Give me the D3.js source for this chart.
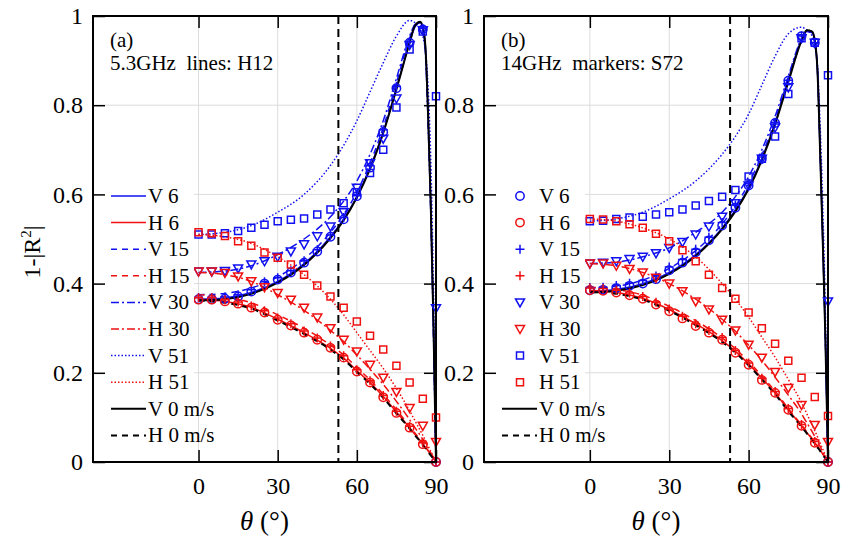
<!DOCTYPE html>
<html>
<head>
<meta charset="utf-8">
<script src="https://cdn.jsdelivr.net/npm/d3@7"></script>
<style>
body { margin: 0; background: #fff; }
svg text { font-family: "Liberation Serif", "Times New Roman", serif; fill: #000; }
</style>
</head>
<body>
<div id="chart"></div>
<script>
// incidence angles (deg) used for the H12 lines and S72 markers
const lineAngles = [0, 10, 20, 30, 40, 50, 55, 60, 65, 70, 75, 80, 82, 84, 85, 86, 87, 88, 89, 90];
const markerAngles = [0, 5, 10, 15, 20, 25, 30, 35, 40, 45, 50, 55, 60, 65, 70, 75, 80, 85, 90];
const xTickValues = [0, 30, 60, 90];
const yTickValues = [0, 0.2, 0.4, 0.6, 0.8, 1];
const legendLabels = ["V 6", "H 6", "V 15", "H 15", "V 30", "H 30", "V 51", "H 51", "V 0 m/s", "H 0 m/s"];
const markerLine = 53;

// ---- panel (a) 5.3 GHz, lines H12 ----
const a_V6 = [0.365, 0.368, 0.38, 0.405, 0.445, 0.505, 0.545, 0.595, 0.66, 0.74, 0.838, 0.94, 0.975, 0.985, 0.975, 0.93, 0.78, 0.58, 0.32, 0];
const a_H6 = [0.365, 0.36, 0.347, 0.32, 0.29, 0.255, 0.233, 0.205, 0.178, 0.147, 0.112, 0.077, 0.062, 0.048, 0.04, 0.033, 0.025, 0.017, 0.008, 0];
const a_V15 = [0.375, 0.378, 0.39, 0.415, 0.455, 0.515, 0.555, 0.605, 0.67, 0.75, 0.85, 0.95, 0.98, 0.985, 0.97, 0.92, 0.77, 0.57, 0.31, 0];
const a_H15 = [0.375, 0.37, 0.357, 0.33, 0.3, 0.262, 0.24, 0.212, 0.184, 0.152, 0.117, 0.08, 0.065, 0.05, 0.042, 0.034, 0.026, 0.018, 0.009, 0];
const a_V30 = [0.425, 0.428, 0.44, 0.465, 0.5, 0.55, 0.585, 0.63, 0.69, 0.765, 0.86, 0.955, 0.98, 0.985, 0.97, 0.915, 0.76, 0.56, 0.3, 0];
const a_H30 = [0.425, 0.42, 0.405, 0.375, 0.34, 0.295, 0.27, 0.24, 0.208, 0.174, 0.136, 0.095, 0.077, 0.06, 0.05, 0.041, 0.031, 0.021, 0.011, 0];
const a_V51 = [0.51, 0.515, 0.53, 0.56, 0.6, 0.665, 0.71, 0.765, 0.83, 0.895, 0.955, 0.99, 0.985, 0.97, 0.955, 0.92, 0.84, 0.68, 0.4, 0];
const a_H51 = [0.51, 0.505, 0.49, 0.46, 0.42, 0.365, 0.33, 0.29, 0.25, 0.21, 0.165, 0.115, 0.093, 0.071, 0.06, 0.048, 0.036, 0.024, 0.012, 0];
const a_V0 = [0.362, 0.365, 0.377, 0.402, 0.442, 0.502, 0.542, 0.593, 0.657, 0.738, 0.836, 0.94, 0.978, 0.987, 0.975, 0.93, 0.78, 0.58, 0.32, 0];
const a_H0 = [0.362, 0.357, 0.344, 0.317, 0.287, 0.252, 0.23, 0.202, 0.175, 0.144, 0.109, 0.075, 0.06, 0.046, 0.038, 0.031, 0.023, 0.015, 0.007, 0];
// panel (a) markers S72
const a_mV6 = [0.365, 0.365, 0.366, 0.371, 0.382, 0.4, 0.409, 0.425, 0.447, 0.472, 0.505, 0.544, 0.596, 0.66, 0.74, 0.838, 0.94, 0.97, 0];
const a_mH6 = [0.364, 0.364, 0.36, 0.355, 0.346, 0.335, 0.319, 0.306, 0.29, 0.274, 0.256, 0.234, 0.203, 0.178, 0.145, 0.11, 0.077, 0.04, 0];
const a_mV15 = [0.369, 0.369, 0.37, 0.375, 0.386, 0.404, 0.413, 0.429, 0.451, 0.476, 0.509, 0.548, 0.6, 0.664, 0.745, 0.842, 0.942, 0.972, 0];
const a_mH15 = [0.368, 0.368, 0.364, 0.359, 0.35, 0.339, 0.323, 0.31, 0.294, 0.278, 0.26, 0.238, 0.207, 0.182, 0.149, 0.114, 0.08, 0.043, 0];
const a_mV30 = [0.427, 0.427, 0.428, 0.434, 0.443, 0.45, 0.46, 0.472, 0.488, 0.506, 0.528, 0.56, 0.615, 0.67, 0.725, 0.815, 0.935, 0.968, 0.345];
const a_mH30 = [0.427, 0.427, 0.424, 0.416, 0.405, 0.392, 0.379, 0.364, 0.346, 0.324, 0.3, 0.274, 0.248, 0.218, 0.189, 0.157, 0.121, 0.081, 0.045];
const a_mV51 = [0.51, 0.51, 0.513, 0.518, 0.525, 0.532, 0.54, 0.543, 0.546, 0.555, 0.566, 0.58, 0.605, 0.648, 0.7, 0.795, 0.925, 0.965, 0.82];
const a_mH51 = [0.515, 0.513, 0.507, 0.495, 0.485, 0.47, 0.458, 0.443, 0.42, 0.396, 0.371, 0.346, 0.315, 0.283, 0.252, 0.216, 0.178, 0.142, 0.1];

// ---- panel (b) 14 GHz, lines H12 ----
const b_V6 = [0.383, 0.387, 0.4, 0.425, 0.465, 0.525, 0.565, 0.615, 0.68, 0.76, 0.855, 0.945, 0.965, 0.962, 0.94, 0.88, 0.7, 0.5, 0.28, 0];
const b_H6 = [0.385, 0.38, 0.367, 0.342, 0.31, 0.272, 0.248, 0.22, 0.188, 0.155, 0.117, 0.081, 0.066, 0.051, 0.043, 0.035, 0.027, 0.018, 0.009, 0];
const b_V15 = [0.39, 0.394, 0.408, 0.434, 0.474, 0.534, 0.574, 0.624, 0.688, 0.766, 0.86, 0.948, 0.966, 0.963, 0.942, 0.882, 0.7, 0.5, 0.28, 0];
const b_H15 = [0.392, 0.387, 0.374, 0.349, 0.317, 0.278, 0.254, 0.225, 0.193, 0.159, 0.12, 0.083, 0.068, 0.053, 0.044, 0.036, 0.028, 0.019, 0.01, 0];
const b_V30 = [0.445, 0.448, 0.46, 0.48, 0.515, 0.56, 0.595, 0.64, 0.7, 0.775, 0.865, 0.95, 0.968, 0.965, 0.945, 0.885, 0.71, 0.51, 0.29, 0];
const b_H30 = [0.445, 0.44, 0.425, 0.4, 0.365, 0.32, 0.293, 0.262, 0.228, 0.19, 0.15, 0.108, 0.088, 0.068, 0.057, 0.046, 0.035, 0.023, 0.012, 0];
const b_V51 = [0.54, 0.545, 0.56, 0.59, 0.63, 0.69, 0.73, 0.78, 0.845, 0.91, 0.96, 0.975, 0.968, 0.955, 0.94, 0.89, 0.76, 0.58, 0.34, 0];
const b_H51 = [0.545, 0.54, 0.525, 0.5, 0.46, 0.4, 0.365, 0.325, 0.28, 0.235, 0.185, 0.133, 0.108, 0.083, 0.07, 0.057, 0.043, 0.029, 0.015, 0];
const b_V0 = [0.38, 0.384, 0.397, 0.422, 0.462, 0.522, 0.562, 0.612, 0.677, 0.757, 0.852, 0.945, 0.968, 0.965, 0.945, 0.88, 0.7, 0.5, 0.28, 0];
const b_H0 = [0.382, 0.377, 0.364, 0.339, 0.307, 0.269, 0.245, 0.217, 0.185, 0.152, 0.114, 0.079, 0.064, 0.049, 0.041, 0.033, 0.025, 0.016, 0.008, 0];
// panel (b) markers S72
const b_mV6 = [0.385, 0.386, 0.39, 0.395, 0.4, 0.41, 0.43, 0.447, 0.47, 0.497, 0.53, 0.57, 0.62, 0.68, 0.76, 0.855, 0.955, 0.94, 0];
const b_mH6 = [0.385, 0.384, 0.38, 0.374, 0.366, 0.353, 0.338, 0.322, 0.305, 0.29, 0.274, 0.245, 0.218, 0.184, 0.155, 0.117, 0.081, 0.043, 0];
const b_mV15 = [0.391, 0.392, 0.396, 0.401, 0.407, 0.417, 0.437, 0.454, 0.477, 0.504, 0.537, 0.576, 0.625, 0.684, 0.762, 0.856, 0.955, 0.94, 0];
const b_mH15 = [0.39, 0.389, 0.385, 0.379, 0.371, 0.358, 0.343, 0.327, 0.31, 0.295, 0.279, 0.25, 0.222, 0.188, 0.158, 0.12, 0.084, 0.046, 0];
const b_mV30 = [0.445, 0.447, 0.45, 0.455, 0.46, 0.468, 0.48, 0.493, 0.51, 0.528, 0.55, 0.58, 0.62, 0.68, 0.75, 0.84, 0.95, 0.94, 0.36];
const b_mH30 = [0.445, 0.445, 0.44, 0.433, 0.425, 0.413, 0.4, 0.383, 0.36, 0.342, 0.319, 0.295, 0.263, 0.234, 0.202, 0.166, 0.128, 0.083, 0.045];
const b_mV51 = [0.54, 0.541, 0.545, 0.548, 0.55, 0.555, 0.56, 0.566, 0.575, 0.585, 0.595, 0.61, 0.64, 0.68, 0.73, 0.825, 0.95, 0.94, 0.867];
const b_mH51 = [0.545, 0.544, 0.54, 0.533, 0.525, 0.512, 0.495, 0.475, 0.45, 0.42, 0.39, 0.366, 0.335, 0.3, 0.265, 0.227, 0.189, 0.146, 0.103];

const width = 844, height = 541;
const plotTop = 16, plotBottom = 462;
const blue = "#1010f0", red = "#f01010";

// style per legend entry: colour, dash pattern of the line, marker shape
const styles = [
    { color: blue, dash: null, marker: "circle", lw: 1.5 },
    { color: red, dash: null, marker: "circle", lw: 1.5 },
    { color: blue, dash: "6,5", marker: "plus", lw: 1.5 },
    { color: red, dash: "6,5", marker: "plus", lw: 1.5 },
    { color: blue, dash: "8,3,2,3", marker: "tri", lw: 1.5 },
    { color: red, dash: "8,3,2,3", marker: "tri", lw: 1.5 },
    { color: blue, dash: "1.5,2", marker: "square", lw: 1.5 },
    { color: red, dash: "1.5,2", marker: "square", lw: 1.5 },
    { color: "#000", dash: null, marker: null, lw: 2 },
    { color: "#000", dash: "6,5", marker: null, lw: 2 }
];

const svg = d3.select("#chart").append("svg")
    .attr("width", width)
    .attr("height", height);

function markerPath(shape) {
    if (shape == "square") return "M-3.5,-3.5H3.5V3.5H-3.5Z";
    if (shape == "tri") return "M-4.5,-3.5L4.5,-3.5L0,4.5Z";
    if (shape == "plus") return "M-4.5,0H4.5M0,-4.5V4.5";
    return d3.symbol(d3.symbolCircle, 55)();
}

function drawPanel(p) {
    const g = svg.append("g");
    const x = d3.scaleLinear().domain([-40, 90]).range([p.left, p.right]);
    const y = d3.scaleLinear().domain([0, 1]).range([plotBottom, plotTop]);

    // grid
    g.selectAll(".gx").data([0, 30, 60]).enter().append("line")
        .attr("x1", d => x(d)).attr("x2", d => x(d))
        .attr("y1", plotTop).attr("y2", plotBottom)
        .attr("stroke", "#dcdcdc").attr("stroke-width", 1);
    g.selectAll(".gy").data([0.2, 0.4, 0.6, 0.8]).enter().append("line")
        .attr("x1", p.left).attr("x2", p.right)
        .attr("y1", d => y(d)).attr("y2", d => y(d))
        .attr("stroke", "#dcdcdc").attr("stroke-width", 1);

    const line = d3.line()
        .x((d, i) => x(lineAngles[i]))
        .y(d => y(d))
        .curve(d3.curveMonotoneX);

    // H12 lines (colored first, black on top)
    p.lines.forEach((vals, i) => {
        const s = styles[i];
        g.append("path")
            .attr("d", line(vals))
            .attr("fill", "none")
            .attr("stroke", s.color)
            .attr("stroke-width", s.lw)
            .attr("stroke-dasharray", s.dash);
    });

    // vertical dashed line
    g.append("line")
        .attr("x1", x(markerLine)).attr("x2", x(markerLine))
        .attr("y1", plotTop).attr("y2", plotBottom)
        .attr("stroke", "#000").attr("stroke-width", 2)
        .attr("stroke-dasharray", "8,5");

    // S72 markers
    p.markers.forEach((vals, i) => {
        const s = styles[i];
        g.selectAll(null).data(vals).enter().append("path")
            .attr("d", markerPath(s.marker))
            .attr("transform", (d, j) => `translate(${x(markerAngles[j])},${y(d)})`)
            .attr("fill", "none")
            .attr("stroke", s.color)
            .attr("stroke-width", 1.5);
    });

    // legend
    const lg = g.append("g");
    lg.append("rect")
        .attr("x", p.left + 3).attr("y", 182)
        .attr("width", 98).attr("height", 268)
        .attr("fill", "#fff");
    legendLabels.forEach((lab, i) => {
        const s = styles[i];
        const cy = 196 + i * 26.6;
        if (p.legendMarkers && s.marker) {
            lg.append("path")
                .attr("d", markerPath(s.marker))
                .attr("transform", `translate(${p.left + 36},${cy})`)
                .attr("fill", "none")
                .attr("stroke", s.color)
                .attr("stroke-width", 1.5);
        } else {
            lg.append("line")
                .attr("x1", p.left + 18).attr("x2", p.left + 53)
                .attr("y1", cy).attr("y2", cy)
                .attr("stroke", s.color)
                .attr("stroke-width", s.lw)
                .attr("stroke-dasharray", s.dash);
        }
        lg.append("text")
            .attr("x", p.left + 55).attr("y", cy + 7)
            .attr("font-size", 21)
            .text(lab);
    });

    // axes
    const xb = g.append("g").attr("transform", `translate(0,${plotBottom})`)
        .call(d3.axisBottom(x).tickValues(xTickValues).tickSize(-12).tickPadding(15));
    const xt = g.append("g").attr("transform", `translate(0,${plotTop})`)
        .call(d3.axisTop(x).tickValues(xTickValues).tickSize(-12).tickFormat(""));
    const yl = g.append("g").attr("transform", `translate(${p.left},0)`)
        .call(d3.axisLeft(y).tickValues(yTickValues).tickSize(-12).tickPadding(10).tickFormat(d => d));
    const yr = g.append("g").attr("transform", `translate(${p.right},0)`)
        .call(d3.axisRight(y).tickValues(yTickValues).tickSize(-12).tickFormat(""));
    [xb, xt, yl, yr].forEach(a => {
        a.attr("font-family", null);
        a.select(".domain").remove();
        a.selectAll(".tick line").attr("stroke", "#000").attr("stroke-width", 1.5);
        a.selectAll("text").attr("font-size", 24);
    });
    g.append("rect")
        .attr("x", p.left).attr("y", plotTop)
        .attr("width", p.right - p.left).attr("height", plotBottom - plotTop)
        .attr("fill", "none").attr("stroke", "#000").attr("stroke-width", 2);

    // panel labels
    g.append("text").attr("x", p.left + 17).attr("y", 47)
        .attr("font-size", 21).text(p.tag);
    g.append("text").attr("x", p.left + 17).attr("y", 70)
        .attr("font-size", 21).style("white-space", "pre").text(p.note);

    // x label
    const xl = g.append("text")
        .attr("x", (p.left + p.right) / 2).attr("y", 530)
        .attr("text-anchor", "middle").attr("font-size", 27);
    xl.append("tspan").attr("font-style", "italic").text("θ");
    xl.append("tspan").text(" (°)");
}

drawPanel({
    left: 93, right: 436, tag: "(a)", note: "5.3GHz  lines: H12", legendMarkers: false,
    lines: [a_V6, a_H6, a_V15, a_H15, a_V30, a_H30, a_V51, a_H51, a_V0, a_H0],
    markers: [a_mV6, a_mH6, a_mV15, a_mH15, a_mV30, a_mH30, a_mV51, a_mH51]
});
drawPanel({
    left: 484, right: 828, tag: "(b)", note: "14GHz  markers: S72", legendMarkers: true,
    lines: [b_V6, b_H6, b_V15, b_H15, b_V30, b_H30, b_V51, b_H51, b_V0, b_H0],
    markers: [b_mV6, b_mH6, b_mV15, b_mH15, b_mV30, b_mH30, b_mV51, b_mH51]
});

// y axis label
const ylab = svg.append("text")
    .attr("transform", "translate(40,252) rotate(-90)")
    .attr("text-anchor", "middle")
    .attr("font-size", 24);
ylab.append("tspan").text("1-|R");
ylab.append("tspan").attr("font-size", 15).attr("dy", -9).text("2");
ylab.append("tspan").attr("dy", 9).text("|");
</script>
</body>
</html>
